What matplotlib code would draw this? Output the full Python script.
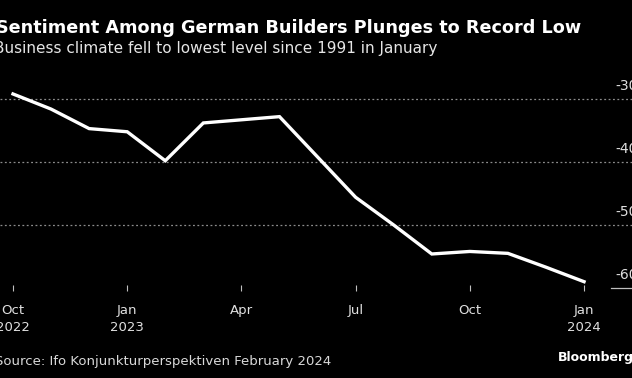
import matplotlib
matplotlib.use("Agg")
import matplotlib.pyplot as plt
from matplotlib.transforms import blended_transform_factory

# Ifo construction business climate, monthly Oct 2022 .. Jan 2024
months = ["2022-10", "2022-11", "2022-12", "2023-01", "2023-02", "2023-03",
          "2023-04", "2023-05", "2023-06", "2023-07", "2023-08", "2023-09",
          "2023-10", "2023-11", "2023-12", "2024-01"]
climate = [-29.2, -31.6, -34.7, -35.2, -39.8, -33.8, -33.3, -32.8,
           -39.2, -45.6, -50.0, -54.6, -54.2, -54.5, -56.7, -59.0]

tick_pos = [0, 3, 6, 9, 12, 15]
tick_labels = ["Oct\n2022", "Jan\n2023", "Apr", "Jul", "Oct", "Jan\n2024"]
y_ticks = [-30, -40, -50, -60]

W, H = 632, 378
BG = "black"
FG = "white"
GRID = "#8c8c8c"

fig = plt.figure(figsize=(W / 100, H / 100), dpi=100, facecolor=BG)

def px(x0, y0, x1, y1):
    # pixel box (top-left origin) -> figure fraction
    return [x0 / W, 1 - y1 / H, (x1 - x0) / W, (y1 - y0) / H]

ax = fig.add_axes(px(0, 70, W, 288))
ax.set_facecolor(BG)

# month i sits at 13 + 38.07*i pixels
step = 38.07
ax.set_xlim(-13 / step, (W - 13) / step)
ax.set_ylim(-60, -30 + (99 - 70) / 6.3)

for v in y_ticks[:-1]:
    ax.axhline(v, color=GRID, lw=0.9, ls=(0, (1.5, 2)), zorder=1)

ax.plot(range(len(climate)), climate, color=FG, lw=2.4, zorder=3,
        solid_joinstyle="miter")

for s in ax.spines.values():
    s.set_visible(False)
ax.set_yticks([])
ax.set_xticks(tick_pos)
ax.set_xticklabels(tick_labels, color="#e0e0e0", fontsize=9.5, linespacing=1.4)
ax.tick_params(axis="x", direction="inout", length=5, width=0.8, color="#bfbfbf", pad=9)

# y labels sit just above their gridline, cut at the right edge
trans = blended_transform_factory(fig.transFigure, ax.transData)
for v in y_ticks:
    ax.text(615 / W, v + 1.0, f"{v}", transform=trans, color="#e0e0e0",
            fontsize=10, ha="left", va="bottom", clip_on=False)
ax.plot([611 / W, 1.0], [-60, -60], transform=trans, color="#bfbfbf", lw=0.9,
        clip_on=False)

fig.text(-4 / W, 1 - 28 / H, "Sentiment Among German Builders Plunges to Record Low",
         color=FG, fontsize=12.7, fontweight="bold", va="center", ha="left")
fig.text(-6 / W, 1 - 48 / H, "Business climate fell to lowest level since 1991 in January",
         color="#e6e6e6", fontsize=11, va="center", ha="left")
fig.text(-5 / W, 1 - 361 / H, "Source: Ifo Konjunkturperspektiven February 2024",
         color="#d9d9d9", fontsize=9.5, va="center", ha="left")
fig.text(634 / W, 1 - 358 / H, "Bloomberg", color=FG, fontsize=9,
         fontweight="bold", va="center", ha="right")

fig.savefig("out.png", dpi=100, facecolor=BG)
